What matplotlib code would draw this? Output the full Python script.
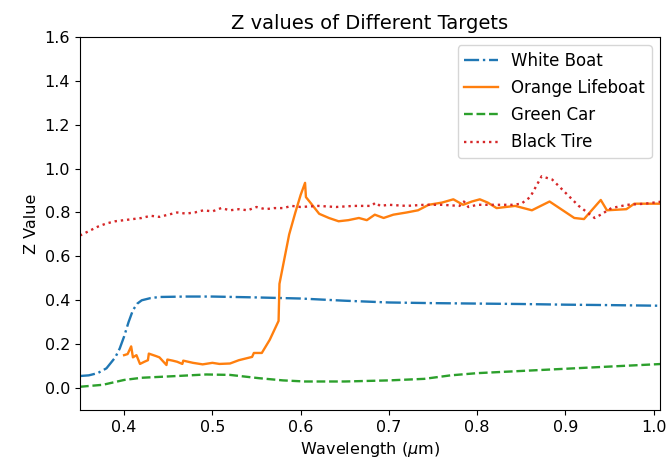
import numpy as np
import matplotlib
matplotlib.use("Agg")
import matplotlib.pyplot as plt

# White Boat
wl_white = [0.35, 0.36, 0.37, 0.38, 0.39, 0.395, 0.40, 0.405, 0.41, 0.415, 0.42, 0.43, 0.44,
            0.47, 0.50, 0.55, 0.60, 0.65, 0.70, 0.75, 0.80, 0.85, 0.90, 0.95, 1.01]
z_white = [0.055, 0.058, 0.068, 0.09, 0.14, 0.18, 0.235, 0.30, 0.355, 0.385, 0.40, 0.41, 0.415,
           0.417, 0.417, 0.413, 0.408, 0.398, 0.39, 0.387, 0.385, 0.383, 0.38, 0.378, 0.375]

# Orange Lifeboat
wl_orange = [0.40, 0.404, 0.408, 0.41, 0.414, 0.418, 0.423, 0.427, 0.428, 0.436, 0.44, 0.448,
             0.449, 0.455, 0.46, 0.466, 0.467, 0.478, 0.489, 0.50, 0.508, 0.52, 0.53, 0.545,
             0.547, 0.556, 0.565, 0.575, 0.576, 0.587, 0.594, 0.60, 0.605, 0.606, 0.612,
             0.621, 0.632, 0.643, 0.654, 0.666, 0.675, 0.684, 0.694, 0.705, 0.72, 0.733,
             0.745, 0.76, 0.773, 0.784, 0.794, 0.803, 0.812, 0.822, 0.843, 0.862, 0.882,
             0.91, 0.921, 0.94, 0.947, 0.969, 0.978, 1.01]
z_orange = [0.15, 0.155, 0.19, 0.14, 0.15, 0.11, 0.12, 0.127, 0.157, 0.146, 0.14, 0.105,
            0.13, 0.125, 0.12, 0.11, 0.125, 0.115, 0.108, 0.115, 0.11, 0.112, 0.127, 0.142,
            0.16, 0.16, 0.22, 0.306, 0.475, 0.70, 0.80, 0.88, 0.935, 0.87, 0.84,
            0.794, 0.775, 0.76, 0.765, 0.775, 0.765, 0.79, 0.775, 0.79, 0.80, 0.81,
            0.835, 0.845, 0.86, 0.835, 0.85, 0.86, 0.845, 0.82, 0.83, 0.81, 0.85,
            0.775, 0.77, 0.857, 0.81, 0.815, 0.84, 0.84]

# Green Car
wl_green = [0.35, 0.376, 0.40, 0.42, 0.46, 0.493, 0.52, 0.553, 0.58, 0.605, 0.65, 0.70,
            0.74, 0.77, 0.80, 0.85, 0.90, 0.95, 1.01]
z_green = [0.006, 0.015, 0.037, 0.047, 0.055, 0.062, 0.06, 0.045, 0.035, 0.03, 0.03, 0.035,
           0.042, 0.058, 0.068, 0.078, 0.088, 0.098, 0.11]

# Black Tire
wl_black = [0.35, 0.36, 0.37, 0.38, 0.39, 0.40, 0.41, 0.42, 0.43, 0.44, 0.45, 0.46, 0.47,
            0.48, 0.49, 0.50, 0.51, 0.52, 0.53, 0.54, 0.55, 0.56, 0.57, 0.58, 0.59, 0.60,
            0.62, 0.64, 0.66, 0.68, 0.685, 0.69, 0.70, 0.72, 0.74, 0.76, 0.78, 0.785, 0.79,
            0.80, 0.82, 0.84, 0.85, 0.86, 0.873, 0.885, 0.90, 0.915, 0.933, 0.94, 0.952,
            0.97, 0.99, 1.01]
z_black = [0.695, 0.715, 0.735, 0.75, 0.76, 0.765, 0.77, 0.775, 0.785, 0.78, 0.79, 0.80, 0.795,
           0.80, 0.81, 0.805, 0.82, 0.81, 0.815, 0.81, 0.825, 0.815, 0.82, 0.82, 0.83, 0.825,
           0.83, 0.825, 0.83, 0.83, 0.845, 0.83, 0.835, 0.83, 0.835, 0.835, 0.83, 0.85, 0.825,
           0.835, 0.835, 0.835, 0.84, 0.87, 0.965, 0.95, 0.89, 0.83, 0.775, 0.79, 0.82,
           0.835, 0.84, 0.85]

plt.rcParams['font.size'] = 11.5

fig, ax = plt.subplots(figsize=(6.72, 4.67), dpi=100)
fig.subplots_adjust(left=0.119, right=0.982, bottom=0.122, top=0.921)

lw = 1.7
ax.plot(wl_white, z_white, '-.', color='#1f77b4', lw=lw, label='White Boat')
ax.plot(wl_orange, z_orange, '-', color='#ff7f0e', lw=lw, label='Orange Lifeboat')
ax.plot(wl_green, z_green, '--', color='#2ca02c', lw=lw, label='Green Car')
ax.plot(wl_black, z_black, ':', color='#d62728', lw=lw, label='Black Tire')

ax.set_xlim(0.35, 1.007)
ax.set_ylim(-0.1, 1.6)
ax.set_xticks([0.4, 0.5, 0.6, 0.7, 0.8, 0.9, 1.0])
ax.set_yticks([0.0, 0.2, 0.4, 0.6, 0.8, 1.0, 1.2, 1.4, 1.6])
ax.tick_params(labelsize=11.5)
ax.set_title("Z values of Different Targets", fontsize=14)
ax.set_xlabel(r"Wavelength ($\mu$m)", fontsize=11.5)
ax.set_ylabel("Z Value", fontsize=11.5)
ax.legend(loc='upper right', fontsize=12, labelspacing=0.55)

fig.savefig("out.png")
